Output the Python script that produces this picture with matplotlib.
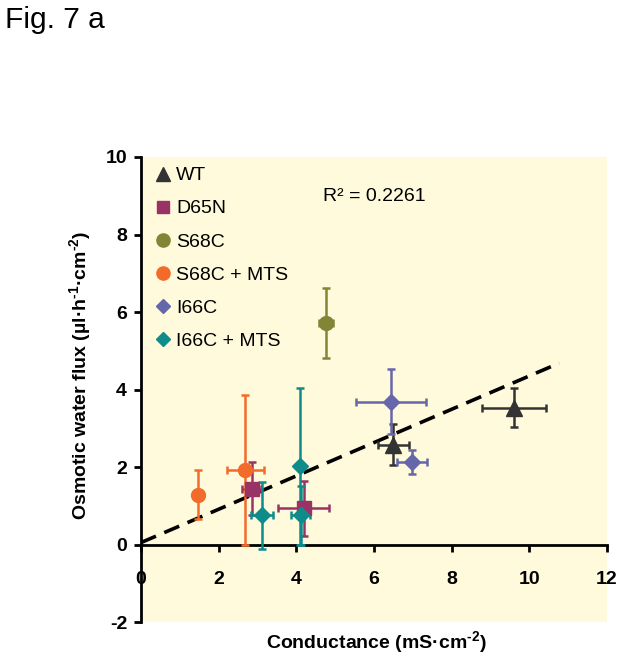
import matplotlib
matplotlib.use("Agg")
import matplotlib.pyplot as plt
from matplotlib.lines import Line2D
import numpy as np

plt.rcParams['font.family'] = ['Liberation Sans', 'DejaVu Sans']
plt.rcParams['axes.unicode_minus'] = False
plt.rcParams['mathtext.fontset'] = 'custom'
plt.rcParams['mathtext.rm'] = 'Liberation Sans:bold'

# data (conductance x, flux y, errors)
labels = ["WT", "D65N", "S68C", "S68C + MTS", "I66C", "I66C + MTS"]
markers = ["^", "s", "o", "o", "D", "D"]
colors = ["#333333", "#993366", "#848437", "#F26B2A", "#6666AA", "#0E8C8C"]
msizes = [11, 9.5, 10, 10, 8, 8]

wt_x = [6.5, 9.6]
wt_y = [2.58, 3.53]
wt_xe = [0.39, 0.82]
wt_ye = [0.53, 0.5]

d65n_x = [2.85, 4.19]
d65n_y = [1.44, 0.93]
d65n_xe = [0.25, 0.65]
d65n_ye = [0.69, 0.72]

s68c_x = [4.77]
s68c_y = [5.71]
s68c_xe = [0.18]
s68c_ye = [0.9]

s68cm_x = [1.47, 2.69]
s68cm_y = [1.29, 1.93]
s68cm_xe = [0.0, 0.47]
s68cm_ye = [0.62, 1.93]

i66c_x = [6.43, 6.97]
i66c_y = [3.69, 2.13]
i66c_xe = [0.9, 0.39]
i66c_ye = [0.85, 0.3]

i66cm_x = [3.12, 4.09, 4.11]
i66cm_y = [0.75, 2.02, 0.75]
i66cm_xe = [0.28, 0.08, 0.25]
i66cm_ye = [0.87, 2.02, 0.75]

series = [
    (wt_x, wt_y, wt_xe, wt_ye),
    (d65n_x, d65n_y, d65n_xe, d65n_ye),
    (s68c_x, s68c_y, s68c_xe, s68c_ye),
    (s68cm_x, s68cm_y, s68cm_xe, s68cm_ye),
    (i66c_x, i66c_y, i66c_xe, i66c_ye),
    (i66cm_x, i66cm_y, i66cm_xe, i66cm_ye),
]

trend_x = [0, 10.77]
trend_slope = 0.43
trend_icpt = 0.05
r2_text = "R² = 0.2261"

fig = plt.figure(figsize=(6.27, 6.58), dpi=100)
ax = fig.add_axes([0.2249, 0.0547, 0.7432, 0.7067])
ax.set_facecolor("#FFFADC")

tx = np.array(trend_x)
ax.plot(tx, trend_slope * tx + trend_icpt, color="black", lw=2.6,
        dashes=(4.5, 2.5), zorder=2)

for (x, y, xe, ye), m, c, ms in zip(series, markers, colors, msizes):
    ax.errorbar(x, y, xerr=xe, yerr=ye, fmt=m, color=c, ecolor=c,
                ms=ms, mec=c, elinewidth=1.8, capsize=3, capthick=1.8,
                zorder=3)

ax.set_xlim(0, 12)
ax.set_ylim(-2, 10)
ax.spines['top'].set_visible(False)
ax.spines['right'].set_visible(False)
ax.spines['bottom'].set_position(('data', 0))
ax.spines['bottom'].set_linewidth(2)
ax.spines['left'].set_linewidth(2)
ax.set_xticks([0, 2, 4, 6, 8, 10, 12])
ax.set_yticks([-2, 0, 2, 4, 6, 8, 10])
ax.tick_params(axis='x', direction='out', length=5, width=2, pad=14,
               labelsize=14)
ax.tick_params(axis='y', direction='out', length=5, width=2, pad=5,
               labelsize=14)
for lbl in ax.get_xticklabels() + ax.get_yticklabels():
    lbl.set_fontweight('bold')

handles = [Line2D([], [], marker=m, color=c, linestyle='none', ms=ms * 0.95,
                  mec=c)
           for m, c, ms in zip(markers, colors, msizes)]
ax.legend(handles, labels, loc='upper left', frameon=False, fontsize=14,
          handletextpad=0.0, handlelength=1.3, labelspacing=0.8,
          borderaxespad=0.1, bbox_to_anchor=(0.0, 1.0))

ax.text(0.50, 0.915, r2_text, transform=ax.transAxes, fontsize=14,
        ha='center', va='center')

fig.text(0.601, 0.024, r"Conductance (mS·cm$^{\text{-2}}$)", ha='center',
         va='center', fontsize=14, fontweight='bold')
fig.text(0.129, 0.43, r"Osmotic water flux (µl·h$^{\text{-1}}$·cm$^{\text{-2}}$)",
         ha='center', va='center', rotation=90, fontsize=14, fontweight='bold')
fig.text(0.008, 0.97, "Fig. 7 a", ha='left', va='center', fontsize=21.5)

fig.savefig("out.png", dpi=100)
